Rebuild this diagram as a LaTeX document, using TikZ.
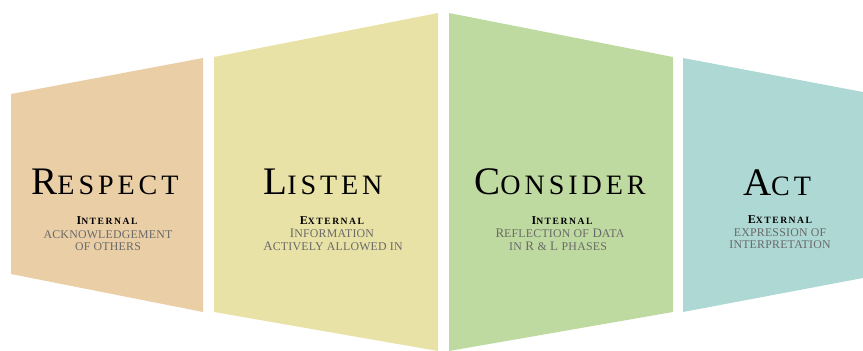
\documentclass[tikz,border=0pt]{standalone}
\usepackage{fontspec}
\newfontfamily\titlefont[LetterSpace=14]{Liberation Serif}
\newfontfamily\kindfont[LetterSpace=16]{Liberation Serif}
\newfontfamily\notefont[LetterSpace=2]{Liberation Serif}
\definecolor{respectfill}{RGB}{234,206,166}
\definecolor{listenfill}{RGB}{232,226,166}
\definecolor{considerfill}{RGB}{191,218,160}
\definecolor{actfill}{RGB}{173,216,212}
\definecolor{notegray}{RGB}{105,105,105}
\makeatletter
\newcommand\lowcaps[2][0.72]{{\fontsize{\fpeval{#1*\f@size}}{\f@baselineskip}\selectfont#2}}
\makeatother
\begin{document}
\begin{tikzpicture}[x=1pt, y=-1pt,
    title/.style={font=\titlefont\fontsize{39}{39}\selectfont, anchor=base, inner sep=0pt},
    kind/.style={font=\kindfont\bfseries\fontsize{12}{12}\selectfont, anchor=base, inner sep=0pt,
      text height=8pt, text depth=0pt},
    note/.style={font=\notefont\fontsize{13}{13}\selectfont, text=notegray, anchor=base, inner sep=0pt,
      text height=8.5pt, text depth=0.5pt}]
        \useasboundingbox (0, 0) rectangle (863, 351);

        % panels
        \fill [respectfill] (11, 94) -- (203, 58) -- (203, 312) -- (11, 274) -- cycle;
        \fill [listenfill] (214, 57) -- (438, 13) -- (438, 351) -- (214, 312) -- cycle;
        \fill [considerfill] (449, 13) -- (673, 57) -- (673, 312) -- (449, 351) -- cycle;
        \fill [actfill] (683, 58) -- (863, 92) -- (863, 278) -- (683, 312) -- cycle;

        \coordinate (R) at (105, 194);
        \coordinate (L) at (323, 194);
        \coordinate (C) at (560, 194);
        \coordinate (A) at (777, 195);

        \node [title] (Rtitle) at (R) {R\lowcaps{ESPECT}};
        \node [kind] (Rkind) at (107, 224) {I\lowcaps[0.8]{NTERNAL}};
        \node [note] (Rnote1) at (108, 238) {\lowcaps[0.91]{ACKNOWLEDGEMENT}};
        \node [note] (Rnote2) at (108, 250) {\lowcaps[0.91]{OF OTHERS}};

        \node [title] (Ltitle) at (L) {L\lowcaps{ISTEN}};
        \node [kind] (Lkind) at (332, 224) {E\lowcaps[0.8]{XTERNAL}};
        \node [note] (Lnote1) at (332, 237) {I\lowcaps[0.91]{NFORMATION}};
        \node [note] (Lnote2) at (333, 250) {A\lowcaps[0.91]{CTIVELY ALLOWED IN}};

        \node [title] (Ctitle) at (C) {C\lowcaps{ONSIDER}};
        \node [kind] (Ckind) at (562, 224) {I\lowcaps[0.8]{NTERNAL}};
        \node [note] (Cnote1) at (560, 237) {R\lowcaps[0.91]{EFLECTION OF} D\lowcaps[0.91]{ATA}};
        \node [note] (Cnote2) at (558, 250) {\lowcaps[0.91]{IN} R \lowcaps[0.91]{\&} L \lowcaps[0.91]{PHASES}};

        \node [title] (Atitle) at (A) {A\lowcaps{CT}};
        \node [kind] (Akind) at (780, 223) {E\lowcaps[0.8]{XTERNAL}};
        \node [note] (Anote1) at (780, 236) {\lowcaps[0.91]{EXPRESSION OF}};
        \node [note] (Anote2) at (780, 248) {\lowcaps[0.91]{INTERPRETATION}};
\end{tikzpicture}
\end{document}
